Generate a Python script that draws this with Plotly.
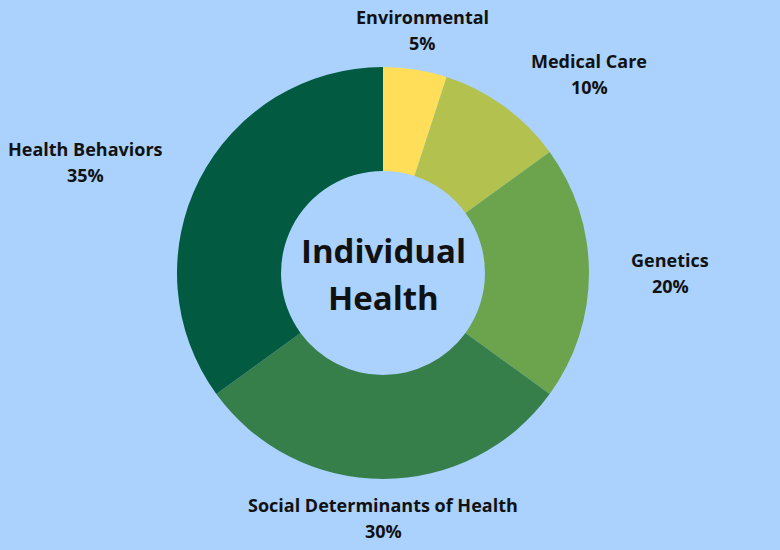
import plotly.graph_objects as go

# slice data, clockwise from 12 o'clock
categories = ["Environmental", "Medical Care", "Genetics", "Social Determinants of Health", "Health Behaviors"]
shares = [5, 10, 20, 30, 35]
slice_colors = ["#ffde59", "#b3c24f", "#6ba44c", "#367f4b", "#025b41"]

# where each outside label sits (pixels from top-left)
label_x = [422, 589, 670, 383, 85]
label_y = [30, 74, 273, 518, 162]

W, H = 780, 550
cx, cy, r = 383, 273, 206

fig = go.Figure(go.Pie(
    labels=categories,
    values=shares,
    sort=False,
    direction="clockwise",
    rotation=0,
    hole=0.495,
    marker=dict(colors=slice_colors, line=dict(width=0)),
    textinfo="none",
    hoverinfo="label+percent",
    showlegend=False,
    domain=dict(x=[(cx - r) / W, (cx + r) / W], y=[(H - cy - r) / H, (H - cy + r) / H]),
))

def txt(s, px_x, px_y, size):
    return dict(
        text="<b>" + s + "</b>",
        x=px_x / W, y=1 - px_y / H, xref="paper", yref="paper",
        xanchor="center", yanchor="middle", showarrow=False,
        font=dict(family="Open Sans", size=size, color="#111111"),
    )

annots = []
for cat, val, lx, ly in zip(categories, shares, label_x, label_y):
    annots.append(txt(cat, lx, ly - 13, 18))
    annots.append(txt(str(val) + "%", lx, ly + 13, 18))

# center text
annots.append(txt("Individual", cx, cy - 22, 33))
annots.append(txt("Health", cx, cy + 24, 33))

fig.update_layout(
    width=W, height=H,
    margin=dict(l=0, r=0, t=0, b=0),
    paper_bgcolor="#aad2fd",
    plot_bgcolor="#aad2fd",
    annotations=annots,
)

# drop the default page margin so the figure fills the window
fig.write_html("out.html", config={"displayModeBar": False},
               post_script="document.body.style.margin='0';document.body.style.background='#aad2fd';")
